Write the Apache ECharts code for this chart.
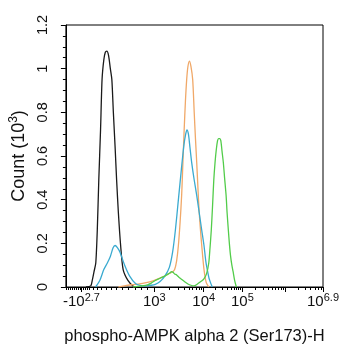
<!DOCTYPE html>
<html>
<head>
<meta charset="utf-8">
<script src="https://cdn.jsdelivr.net/npm/echarts@6/dist/echarts.min.js"></script>
<style>html,body{margin:0;padding:0;background:#fff;}#c{width:342px;height:350px;}</style>
</head>
<body>
<div id="c"></div>
<script>
// x values are display channels (0..1024) of the biexponential axis
const blackSeries = [[80,0],[99,0.005],[105,0.03],[112,0.07],[119,0.11],[125,0.26],[131,0.49],[138,0.72],[144,0.95],[151,1.04],[157,1.075],[163,1.08],[170,1.06],[177,1.0],[183,0.95],[189,0.80],[196,0.64],[202,0.49],[209,0.34],[218,0.19],[228,0.08],[247,0.03],[267,0.005],[280,0]];
const cyanSeries = [[118,0],[135,0.03],[151,0.08],[165,0.11],[177,0.14],[188,0.18],[196,0.19],[205,0.18],[215,0.16],[234,0.10],[254,0.05],[278,0.015],[300,0.006],[317,0.005],[340,0.008],[356,0.012],[375,0.025],[394,0.05],[412,0.09],[425,0.16],[436,0.26],[448,0.40],[460,0.54],[470,0.65],[477,0.70],[482,0.72],[488,0.70],[494,0.64],[501,0.57],[511,0.49],[521,0.42],[531,0.34],[541,0.26],[550,0.19],[557,0.12],[563,0.08],[570,0.04],[576,0.02],[583,0]];
const orangeSeries = [[209,0],[247,0.008],[270,0.011],[293,0.014],[320,0.02],[344,0.027],[362,0.035],[383,0.045],[408,0.06],[425,0.07],[433,0.08],[441,0.12],[448,0.19],[455,0.30],[461,0.42],[466,0.57],[471,0.72],[476,0.85],[481,0.95],[486,1.01],[492,1.035],[498,1.01],[505,0.95],[511,0.80],[516,0.68],[521,0.57],[526,0.45],[531,0.34],[536,0.26],[541,0.19],[550,0.08],[559,0.02],[569,0]];
const greenSeries = [[267,0],[300,0.005],[325,0.01],[340,0.018],[356,0.03],[375,0.04],[394,0.05],[405,0.058],[414,0.064],[420,0.07],[426,0.068],[433,0.06],[441,0.055],[450,0.045],[460,0.036],[473,0.024],[486,0.014],[498,0.008],[510,0.005],[524,0.014],[536,0.024],[549,0.036],[560,0.06],[569,0.11],[574,0.18],[579,0.26],[584,0.37],[589,0.49],[594,0.57],[599,0.63],[604,0.67],[608,0.68],[613,0.68],[617,0.67],[622,0.62],[627,0.57],[632,0.50],[638,0.42],[642,0.34],[647,0.26],[651,0.20],[656,0.14],[661,0.10],[666,0.07],[672,0.03],[679,0]];

const xTickValues = [62, 352, 549, 703, 1024];
const xTickBase = ['-10', '10', '10', '10', '10'];
const xTickExp = ['2.7', '3', '4', '5', '6.9'];
const xMajorTicks = [62, 352, 549, 703, 873, 1024];
const xMinorTicks = [0, 8, 16, 24, 32, 40, 48, 56, 70, 78, 86, 94, 108, 124, 140, 160, 180, 200, 225, 250, 275, 300, 325,
  411, 446, 471, 490, 505, 519, 530, 540,
  595, 622, 642, 657, 669, 679, 688, 696,
  754, 784, 805, 822, 835, 847, 857, 865,
  924, 954, 975, 992, 1005, 1017];
const yTickLabels = ['0', '0.2', '0.4', '0.6', '0.8', '1', '1.2'];

const FONT = '"Liberation Sans", Arial, sans-serif';
const chart = echarts.init(document.getElementById('c'));

function mk(name, data, color) {
  return {
    name: name, type: 'line', data: data, xAxisIndex: 0, yAxisIndex: 0,
    showSymbol: false, smooth: 0.25,
    lineStyle: { color: color, width: 1.3 }, itemStyle: { color: color },
    z: 3
  };
}

chart.setOption({
  animation: false,
  backgroundColor: '#fff',
  grid: { left: 62, right: 16, top: 25, bottom: 62, show: true, borderColor: '#000', borderWidth: 1, containLabel: false },
  xAxis: [
    {
      type: 'value', min: 0, max: 1024, position: 'bottom',
      name: 'phospho-AMPK alpha 2 (Ser173)-H', nameLocation: 'middle', nameGap: 41,
      nameTextStyle: { fontFamily: FONT, fontSize: 16.5, color: '#111' },
      axisLine: { show: true, lineStyle: { color: '#000', width: 1 } },
      axisTick: { show: true, inside: false, length: 5, customValues: xMajorTicks, lineStyle: { color: '#000' } },
      splitLine: { show: false },
      axisLabel: {
        show: true, margin: 5, customValues: xTickValues,
        formatter: function (v) {
          const i = xTickValues.indexOf(v);
          if (i < 0) return '';
          return '{b|' + xTickBase[i] + '}{s|' + xTickExp[i] + '}';
        },
        rich: {
          b: { fontFamily: FONT, fontSize: 15, color: '#111', height: 15, lineHeight: 17.5, verticalAlign: 'bottom' },
          s: { fontFamily: FONT, fontSize: 11, color: '#111', height: 11, lineHeight: 11, verticalAlign: 'top' }
        }
      }
    },
    {
      type: 'value', min: 0, max: 1024, position: 'bottom', gridIndex: 0,
      axisLine: { show: false },
      axisTick: { show: true, inside: false, length: 3, customValues: xMinorTicks, lineStyle: { color: '#000' } },
      axisLabel: { show: false },
      splitLine: { show: false }
    }
  ],
  yAxis: {
    type: 'value', min: 0, max: 1.2, interval: 0.2,
    name: '{n|Count (10}{s|3}{n|)}', nameLocation: 'middle', nameGap: 35,
    nameTextStyle: {
      rich: {
        n: { fontFamily: FONT, fontSize: 18, color: '#111', height: 18, lineHeight: 20, verticalAlign: 'bottom' },
        s: { fontFamily: FONT, fontSize: 12, color: '#111', height: 12, lineHeight: 12, verticalAlign: 'top' }
      }
    },
    axisLine: { show: true, lineStyle: { color: '#000' } },
    axisTick: { show: true, inside: false, length: 5, lineStyle: { color: '#000' } },
    minorTick: { show: true, splitNumber: 4, length: 3, lineStyle: { color: '#000' } },
    splitLine: { show: false },
    axisLabel: {
      rotate: 90, margin: 15, fontFamily: FONT, fontSize: 14.5, color: '#111',
      formatter: function (v) { return yTickLabels[Math.round(v / 0.2)]; }
    }
  },
  series: [
    mk('black', blackSeries, '#1a1a1a'),
    mk('orange', orangeSeries, '#f0a868'),
    mk('cyan', cyanSeries, '#3aaad0'),
    mk('green', greenSeries, '#52cc4a')
  ]
});
</script>
</body>
</html>
